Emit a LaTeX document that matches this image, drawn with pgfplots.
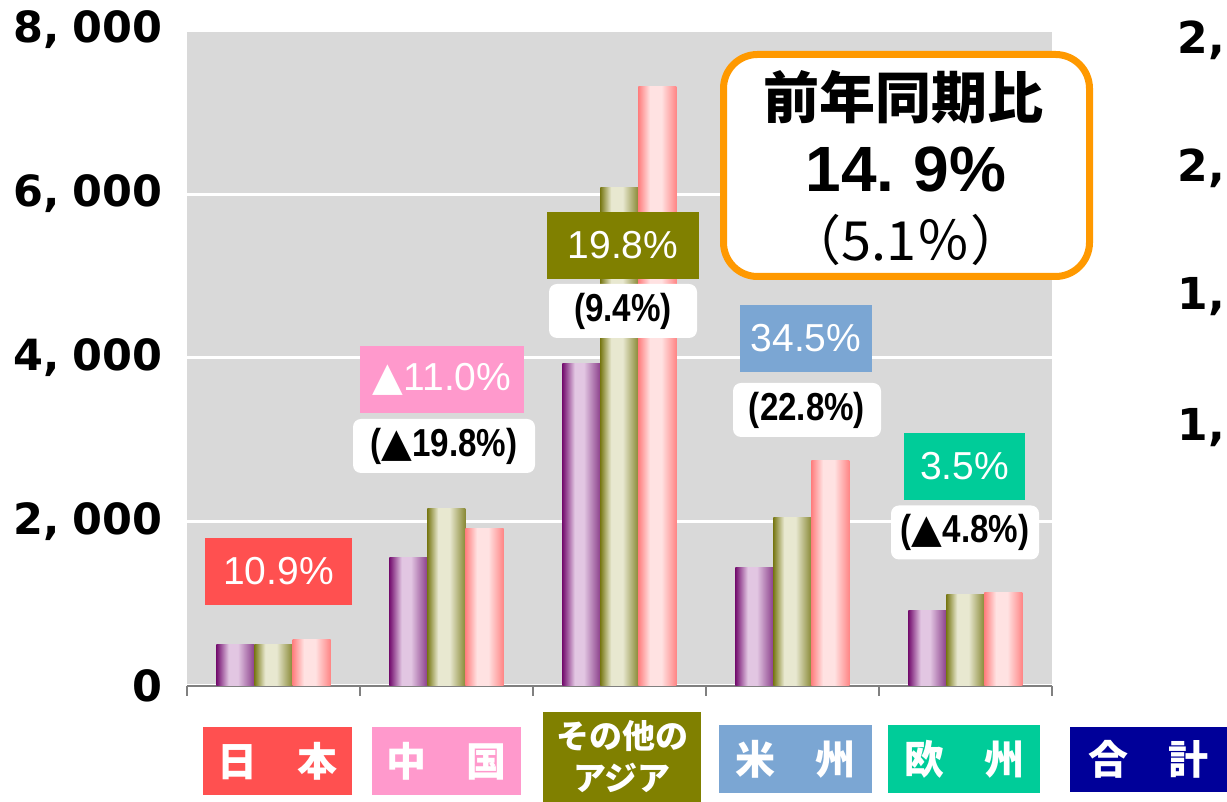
\documentclass[border=0pt]{standalone}
\usepackage{fontspec}
\usepackage{pgfplots}
\pgfplotsset{compat=1.18}
\setmainfont{Liberation Sans}
\newfontfamily\dv{DejaVu Sans}
\newfontfamily\jp{Noto Sans CJK JP}
\newfontfamily\nar{Liberation Sans}[FakeStretch=0.85]

\definecolor{bgc}{HTML}{D9D9D9}
\definecolor{redbox}{HTML}{FF5050}
\definecolor{pinkbox}{HTML}{FF99CC}
\definecolor{olivebox}{HTML}{808000}
\definecolor{bluebox}{HTML}{7BA6D3}
\definecolor{greenbox}{HTML}{00CC99}
\definecolor{navybox}{HTML}{000099}
\definecolor{callout}{HTML}{FF9900}
\definecolor{purpL}{HTML}{751070}
\definecolor{purpM}{HTML}{E2C6E2}
\definecolor{purpR}{HTML}{8A3E8A}
\definecolor{oliveL}{HTML}{7A7A18}
\definecolor{oliveM}{HTML}{E8E8D0}
\definecolor{oliveR}{HTML}{888834}
\definecolor{pinkL}{HTML}{FF8080}
\definecolor{pinkM}{HTML}{FFE2E2}
\definecolor{pinkR}{HTML}{FF8585}

% bar gradients: dark edges, wide light band left of centre (visible part is 25bp..75bp)
\pgfdeclarehorizontalshading{pshade}{100bp}{color(0bp)=(purpL); color(25bp)=(purpL); color(41bp)=(purpM); color(53bp)=(purpM); color(75bp)=(purpR); color(100bp)=(purpR)}
\pgfdeclarehorizontalshading{oshade}{100bp}{color(0bp)=(oliveL); color(25bp)=(oliveL); color(39bp)=(oliveM); color(54bp)=(oliveM); color(75bp)=(oliveR); color(100bp)=(oliveR)}
\pgfdeclarehorizontalshading{kshade}{100bp}{color(0bp)=(pinkL); color(25bp)=(pinkL); color(40bp)=(pinkM); color(55bp)=(pinkM); color(75bp)=(pinkR); color(100bp)=(pinkR)}

\pgfplotsset{
  pb/.style={draw=none, /tikz/shade, /tikz/shading=pshade, bar shift=-19pt},
  ob/.style={draw=none, /tikz/shade, /tikz/shading=oshade, bar shift=0pt},
  kb/.style={draw=none, /tikz/shade, /tikz/shading=kshade, bar shift=19pt},
}

\tikzset{
  pct/.style={text=white, font={\fontsize{19.5}{20}\selectfont}, minimum height=33.5pt, inner sep=0pt},
  prn/.style={fill=white, rounded corners=4pt, font={\nar\bfseries\fontsize{19.5}{20}\selectfont}, minimum height=27pt, inner sep=0pt},
  cat/.style={text=white, font={\jp\bfseries\fontsize{20}{22}\selectfont}, minimum height=34pt, inner sep=0pt, align=center},
  rlab/.style={anchor=west, inner sep=0pt, font={\dv\bfseries\fontsize{22}{22}\selectfont}},
}
\newcommand{\tri}{{\dv\fontsize{20}{20}\selectfont ▲}}

\begin{document}
\begin{tikzpicture}[x=0.5pt,y=0.5pt]
\useasboundingbox (0,0) rectangle (1227,802);
\begin{axis}[
  at={(93.5pt,58pt)}, anchor=south west,
  scale only axis, width=432.5pt, height=328pt,
  xmin=0, xmax=5, ymin=0, ymax=8000,
  axis background/.style={fill=bgc},
  axis lines*=left,
  y axis line style={draw=none},
  x axis line style={draw=gray, line width=1pt},
  xtick={0,1,2,3,4,5}, xticklabel=\empty,
  x tick style={draw=gray, line width=0.8pt},
  major tick length=5pt, tick align=inside,
  ytick={0,2000,4000,6000,8000},
  yticklabels={0,{2,\hspace{0.3em}000},{4,\hspace{0.3em}000},{6,\hspace{0.3em}000},{8,\hspace{0.3em}000}},
  y tick style={draw=none},
  yticklabel style={font={\dv\bfseries\fontsize{21.5}{22}\selectfont}, anchor=east, inner sep=0pt, xshift=-12pt},
  ymajorgrids, grid style={white, line width=1.5pt},
  ybar, bar width=19pt,
]
% 日本
\addplot[pb] coordinates {(0.5,512)};
\addplot[ob] coordinates {(0.5,512)};
\addplot[kb] coordinates {(0.5,561)};
% 中国
\addplot[pb] coordinates {(1.5,1561)};
\addplot[ob] coordinates {(1.5,2159)};
\addplot[kb] coordinates {(1.5,1915)};
% その他のアジア
\addplot[pb] coordinates {(2.5,3927)};
\addplot[ob] coordinates {(2.5,6085)};
\addplot[kb] coordinates {(2.5,7305)};
% 米州
\addplot[pb] coordinates {(3.5,1451)};
\addplot[ob] coordinates {(3.5,2049)};
\addplot[kb] coordinates {(3.5,2756)};
% 欧州
\addplot[pb] coordinates {(4.5,915)};
\addplot[ob] coordinates {(4.5,1110)};
\addplot[kb] coordinates {(4.5,1146)};
\end{axis}

% growth labels
\node[pct, fill=redbox, minimum width=73.5pt] at (278.5,230.5) {10.9\%};
\node[pct, fill=pinkbox, minimum width=82pt] at (442,422.5) {\textcolor{white}{\tri}11.0\%};
\node[prn, minimum width=91pt] at (444,356) {(\tri19.8\%)};
\node[pct, fill=olivebox, minimum width=76pt] at (623,556.5) {19.8\%};
\node[prn, minimum width=74pt] at (623,491) {(9.4\%)};
\node[pct, fill=bluebox, minimum width=66pt] at (806,463.5) {34.5\%};
\node[prn, minimum width=74pt] at (807,392) {(22.8\%)};
\node[pct, fill=greenbox, minimum width=60.5pt] at (964.5,335.5) {3.5\%};
\node[prn, minimum width=74pt] at (965,269.5) {(\tri4.8\%)};

% callout
\node[draw=callout, line width=3.5pt, rounded corners=17pt, fill=white,
      minimum width=183pt, minimum height=111pt] at (906.5,636.5) {};
\node[font={\jp\bfseries\fontsize{28}{28}\selectfont}] at (903,705) {前年同期比};
\node[font={\bfseries\fontsize{32}{32}\selectfont}] at (906,633) {14.\hspace{0.3em}9\%};
\node[font={\jp\fontsize{27}{27}\selectfont}] at (906,562) {（5.1％）};

% category boxes
\node[cat, fill=redbox, minimum width=74.5pt] at (277.5,41) {日　本};
\node[cat, fill=pinkbox, minimum width=74.5pt] at (446.5,41) {中　国};
\node[cat, fill=olivebox, minimum width=79pt, minimum height=45pt,
      font={\jp\bfseries\fontsize{16.5}{21}\selectfont}] at (622,45) {その他の\\アジア};
\node[cat, fill=bluebox, minimum width=76.5pt] at (795.5,43) {米　州};
\node[cat, fill=greenbox, minimum width=76pt] at (964,43) {欧　州};
\node[cat, fill=navybox, minimum width=78.5pt, minimum height=32.5pt] at (1148.5,42.5) {合　計};

% cut-off secondary scale
\node[rlab] at (1177,762) {2,};
\node[rlab] at (1177,634) {2,};
\node[rlab] at (1177,505) {1,};
\node[rlab] at (1177,374) {1,};
\end{tikzpicture}
\end{document}
